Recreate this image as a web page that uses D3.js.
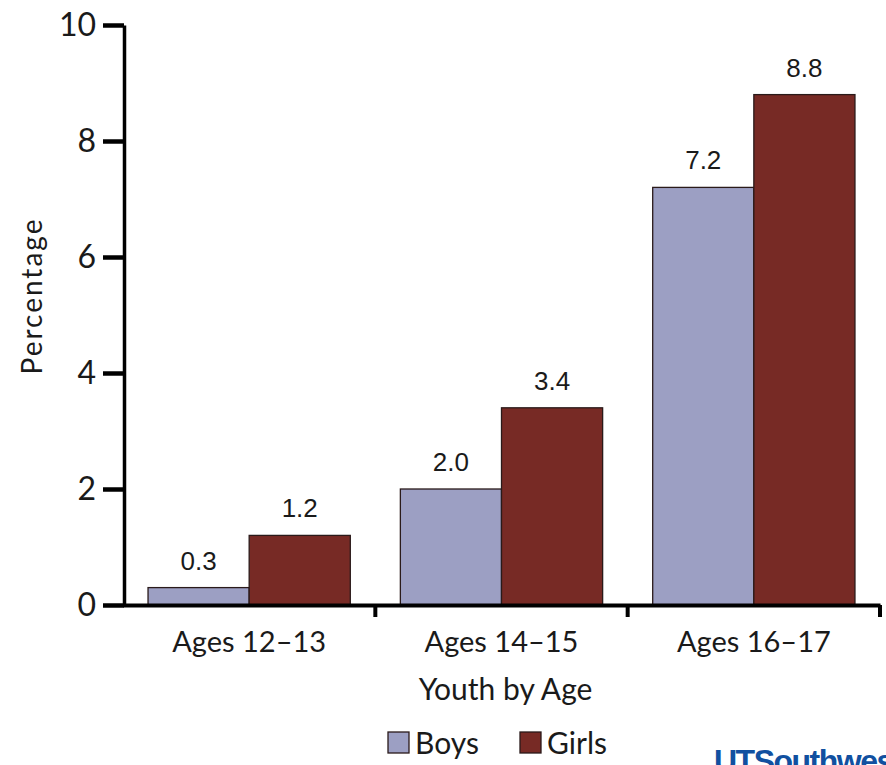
<!DOCTYPE html>
<html>
<head>
<meta charset="utf-8">
<script src="https://cdn.jsdelivr.net/npm/d3@7"></script>
<style>
  html, body { margin: 0; padding: 0; background: #fff; }
  svg { display: block; }
</style>
</head>
<body>
<svg id="chart" width="886" height="765"></svg>
<script>
// Data
const categories = ["Ages 12\u201313", "Ages 14\u201315", "Ages 16\u201317"];
const seriesNames = ["Boys", "Girls"];
const boys = [0.3, 2.0, 7.2];
const girls = [1.2, 3.4, 8.8];
const yTicks = [0, 2, 4, 6, 8, 10];
const seriesColors = ["#9c9fc3", "#772a25"];

const svg = d3.select("#chart");
const labelFont = "Lato, 'Open Sans', sans-serif";
const valueFont = "'Liberation Sans', Arial, sans-serif";

const plot = { left: 123, right: 880, top: 25, bottom: 605 };

const y = d3.scaleLinear().domain([0, 10]).range([plot.bottom, plot.top]);
const x0 = d3.scaleBand().domain(categories).range([plot.left, plot.right]).padding(0);
const x1 = d3.scaleBand().domain(seriesNames).range([0, x0.bandwidth()])
  .paddingInner(0).paddingOuter(0.2475);
const color = d3.scaleOrdinal().domain(seriesNames).range(seriesColors);

const rows = categories.map((c, i) => ({
  category: c,
  values: [{ key: "Boys", value: boys[i] }, { key: "Girls", value: girls[i] }]
}));

// Bars
const groups = svg.append("g").selectAll("g")
  .data(rows).join("g")
  .attr("transform", d => `translate(${x0(d.category)},0)`);

groups.selectAll("rect")
  .data(d => d.values).join("rect")
  .attr("x", d => x1(d.key))
  .attr("y", d => y(d.value))
  .attr("width", x1.bandwidth())
  .attr("height", d => y(0) - y(d.value))
  .attr("fill", d => color(d.key))
  .attr("stroke", "#2a1a1a")
  .attr("stroke-width", 1.3);

// Value labels
groups.selectAll("text.val")
  .data(d => d.values).join("text")
  .attr("class", "val")
  .attr("x", d => x1(d.key) + x1.bandwidth() / 2)
  .attr("y", d => y(d.value) - 18)
  .attr("text-anchor", "middle")
  .style("font-family", valueFont)
  .style("font-size", "26px")
  .style("fill", "#1a1a1a")
  .text(d => d.value.toFixed(1));

// Y axis
const yAxis = svg.append("g")
  .attr("transform", `translate(${plot.left + 1},0)`)
  .call(d3.axisLeft(y).tickValues(yTicks).tickSize(21).tickSizeOuter(0).tickPadding(7)
    .tickFormat(d3.format("d")));
yAxis.select(".domain").attr("stroke", "#000").attr("stroke-width", 3.5);
yAxis.selectAll(".tick line").attr("stroke", "#000").attr("stroke-width", 4.5);
yAxis.selectAll(".tick text")
  .style("font-family", labelFont)
  .style("font-size", "32px")
  .style("fill", "#1a1a1a");

// X axis
const xAxis = svg.append("g")
  .attr("transform", `translate(0,${plot.bottom})`)
  .call(d3.axisBottom(x0).tickSize(0).tickSizeOuter(0).tickPadding(26));
xAxis.select(".domain").attr("stroke", "#000").attr("stroke-width", 4);
xAxis.selectAll(".tick text")
  .style("font-family", labelFont)
  .style("font-size", "29px")
  .style("fill", "#1a1a1a");

// Category boundary ticks on the x axis
xAxis.selectAll("line.sep")
  .data(categories).join("line")
  .attr("class", "sep")
  .attr("x1", d => x0(d) + x0.bandwidth())
  .attr("x2", d => x0(d) + x0.bandwidth())
  .attr("y1", 0)
  .attr("y2", 12)
  .attr("stroke", "#000")
  .attr("stroke-width", 4);

// Axis titles
svg.append("text")
  .attr("x", (plot.left + plot.right) / 2 + 4)
  .attr("y", 700)
  .attr("text-anchor", "middle")
  .style("font-family", labelFont)
  .style("font-size", "30px")
  .style("fill", "#1a1a1a")
  .text("Youth by Age");

svg.append("text")
  .attr("transform", "translate(42,296) rotate(-90)")
  .attr("text-anchor", "middle")
  .style("font-family", labelFont)
  .style("font-size", "28px")
  .style("letter-spacing", "2px")
  .style("fill", "#1a1a1a")
  .text("Percentage");

// Legend
const legend = svg.append("g");
const legendItems = [
  { key: "Boys", x: 388 },
  { key: "Girls", x: 520 }
];
legend.selectAll("rect")
  .data(legendItems).join("rect")
  .attr("x", d => d.x)
  .attr("y", 732)
  .attr("width", 21)
  .attr("height", 21)
  .attr("fill", d => color(d.key))
  .attr("stroke", "#2a1a1a")
  .attr("stroke-width", 1.3);
legend.selectAll("text")
  .data(legendItems).join("text")
  .attr("x", d => d.x + 27)
  .attr("y", 754)
  .style("font-family", labelFont)
  .style("font-size", "30px")
  .style("fill", "#1a1a1a")
  .text(d => d.key);

// Institution wordmark along the bottom edge
svg.append("text")
  .attr("x", 714)
  .attr("y", 772)
  .style("font-family", "'Liberation Sans', Arial, sans-serif")
  .style("font-weight", "bold")
  .style("font-size", "32px")
  .style("letter-spacing", "-1.5px")
  .style("fill", "#1150a0")
  .text("UTSouthwestern");
</script>
</body>
</html>
